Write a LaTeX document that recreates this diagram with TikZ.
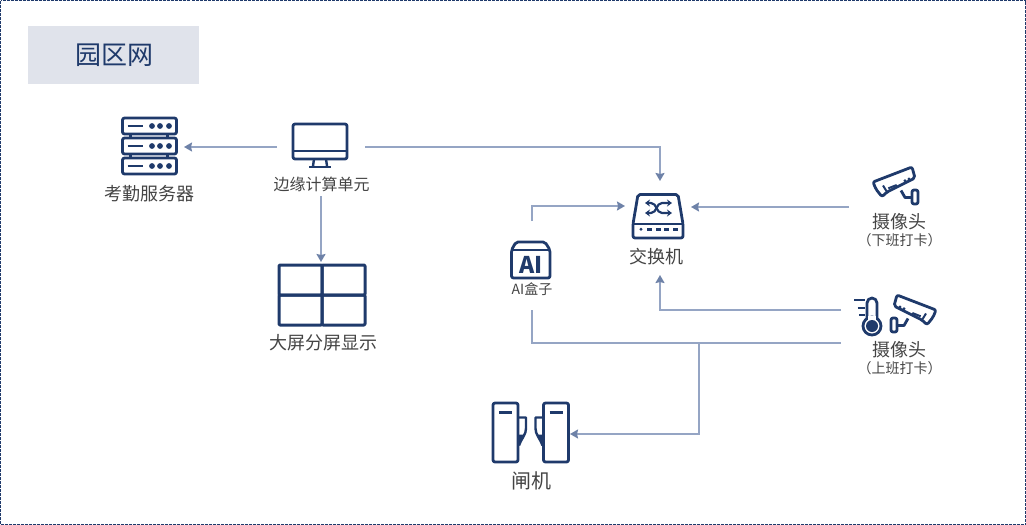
\documentclass[tikz,border=0pt]{standalone}
\usepackage{fontspec}
\setmainfont{Noto Sans CJK SC}
\usepackage{xcolor}
\usetikzlibrary{
  arrows.meta,
  positioning,
  calc
}
\definecolor{parkNavy}{HTML}{1F3A6B}
\definecolor{parkLine}{HTML}{95A5C4}
\definecolor{parkTip}{HTML}{6E82A8}
\definecolor{parkBand}{HTML}{E0E3EB}
\definecolor{parkText}{HTML}{444444}
\tikzset{
  devicon/.style={draw=none, inner sep=0pt, outer sep=0pt},
  devlabel/.style={font=\fontsize{18}{20}\selectfont, text=parkText, inner sep=0pt, align=center},
  smalllabel/.style={font=\fontsize{14}{20}\selectfont, text=parkText, inner sep=0pt, align=center},
  iconline/.style={draw=parkNavy, line width=2.8pt, rounded corners=2pt, line join=round},
  iconfill/.style={fill=parkNavy, draw=none},
  link/.style={line width=2pt, parkLine},
  linkarrow/.style={link, -{Stealth[length=8pt, width=9pt, inset=1pt, color=parkTip]}},
  serverpic/.pic={
    \foreach \yy in {-20,0,20} {
      \draw[iconline] (-27,\yy-8) rectangle (27,\yy+8);
      \draw[iconline, rounded corners=0pt] (-22,\yy) -- (-7,\yy);
      \foreach \xx in {2.5,10.5,19.5} \fill[parkNavy] (\xx,\yy) circle (2.9);
    }
    \foreach \xx in {-19,18} \foreach \yy in {-10,10}
      \fill[parkNavy] (\xx-1.5,\yy-2) rectangle (\xx+1.5,\yy+2);
  },
  monitorpic/.pic={
    \draw[iconline] (-27,-22) rectangle (27,13);
    \draw[iconline, rounded corners=0pt] (-27,5) -- (27,5);
    \draw[iconline, rounded corners=0pt, line width=2.4pt] (-6,13) -- (-7,20) (6,13) -- (7,20);
    \draw[iconline, rounded corners=0pt] (-11,21) -- (11,21);
  },
  wallpic/.pic={
    \foreach \xx/\yy in {-43/-30,0/-30,-43/0,0/0}
      \draw[iconline, line width=3pt, rounded corners=1pt] (\xx,\yy) rectangle (\xx+43,\yy+30);
  },
  switchpic/.pic={
    \draw[iconline] (-21,-22) -- (19,-22) -- (24,7.5) -- (24,21.5) -- (-26,21.5) -- (-26,7.5) -- cycle;
    \draw[iconline, rounded corners=0pt] (-26,7.5) -- (24,7.5);
    \fill[parkNavy] (-18,12.8) circle (1.6);
    \foreach \xx in {-12,-3.5,4.5,13.5} \fill[parkNavy] (\xx,11) rectangle (\xx+5.2,14.8);
    \draw[parkNavy, line width=2.2pt, {Stealth[length=5pt, width=7pt]}-{Stealth[length=5pt, width=7pt]}] (-14,-13.5) -- (-8,-13.5) .. controls (-2,-13.5) and (-3,-3.5) .. (3,-3.5) -- (13,-3.5);
    \draw[parkNavy, line width=2.2pt, {Stealth[length=5pt, width=7pt]}-{Stealth[length=5pt, width=7pt]}] (-14,-3.5) -- (-8,-3.5) .. controls (-2,-3.5) and (-3,-13.5) .. (3,-13.5) -- (13,-13.5);
  },
  aiboxpic/.pic={
    \draw[iconline] (-15,-18) -- (14,-18) -- (19,-10) -- (19,18) -- (-19.5,18) -- (-19.5,-10) -- cycle;
    \draw[iconline, rounded corners=0pt] (-19.5,-10) -- (19,-10);
    \node[text=parkNavy, font=\fontsize{23}{24}\selectfont\bfseries, inner sep=0pt] (aitext) at (0,5) {AI};
  },
  camerapic/.pic={
    \draw[iconline] (-22,-4) -- (17,-19) -- (20,-8) -- (-8,6) -- (-13,10.7) -- (-19,3.3) -- cycle;
    \draw[iconline, rounded corners=0pt, line width=2pt] (-12,-0.5) -- (-8,6);
    \draw[iconline, rounded corners=0pt, line width=2pt] (-6.7,2.3) -- (1.7,-1);
    \fill[parkNavy] (10,-5.3) circle (1.6) (14,-7) circle (1.6);
    \draw[iconline, rounded corners=0pt] (6,4.5) -- (10,11.5) -- (17,11.5);
    \draw[iconline] (17,4) rectangle (23,18);
  },
  thermopic/.pic={
    \draw[iconline, rounded corners=0pt] (-5,13) -- (-5,-3) arc[start angle=-180, end angle=0, radius=5] -- (5,13);
    \draw[iconline, fill=white, rounded corners=0pt] (0,20) circle (9);
    \fill[parkNavy] (0,20) circle (6);
    \fill[white] (-3.6,10) rectangle (3.6,13.5);
    \draw[iconline, rounded corners=0pt] (-18,-6) -- (-7.5,-6) (-14.5,2) -- (-7.5,2) (-13,9) -- (-7.5,9);
  },
  gatepic/.pic={
    \draw[iconline] (-38,-29.5) rectangle (-13,29.5);
    \draw[iconline] (12.5,-29.5) rectangle (37.5,29.5);
    \draw[iconline, rounded corners=0pt] (-32,-20) -- (-19,-20) (18.5,-20) -- (31.5,-20);
    \draw[parkNavy, line width=2.4pt, line join=round] (-12,-15) -- (-5,-15) -- (-5,-4) .. controls (-5,2) and (-9,5) .. (-12,13);
    \fill[parkNavy] (-12,2) -- (-7,2) -- (-12,13) -- cycle;
    \draw[parkNavy, line width=2.4pt, line join=round] (11.5,-15) -- (4.5,-15) -- (4.5,-4) .. controls (4.5,2) and (8.5,5) .. (11.5,13);
    \fill[parkNavy] (11.5,2) -- (6.5,2) -- (11.5,13) -- cycle;
  }
}
\begin{document}
\begin{tikzpicture}[x=1pt, y=-1pt]
  \useasboundingbox (0,0) rectangle (1026,525);
  \draw[parkNavy, line width=1pt, dash pattern=on 3pt off 1pt] (0.5,0.5) rectangle (1025.5,524.5);
  % title band
  \node[fill=parkBand, minimum width=171pt, minimum height=58pt, inner sep=0pt, text=parkNavy, font=\fontsize{26}{28}\selectfont] (title) at (113.5,55) {\hspace*{1.5pt}园区网};
  % device icons
  \node[devicon, minimum width=54pt, minimum height=56pt] (server) at (149.5,146) {};
  \node[devlabel, below=11pt of server] (serverlabel) {考勤服务器};
  \node[devicon, minimum width=54pt, minimum height=44pt] (monitor) at (320,146) {};
  \node[smalllabel, font=\fontsize{16}{18}\selectfont, below=9pt of monitor, xshift=1.5pt] (monitorlabel) {边缘计算单元};
  \node[devicon, minimum width=86pt, minimum height=60pt] (wall) at (322,295) {};
  \node[devlabel, below=9pt of wall, xshift=1.5pt] (walllabel) {大屏分屏显示};
  \node[devicon, minimum width=49pt, minimum height=45pt] (switch) at (659,216.5) {};
  \node[devlabel, below=9pt of switch, xshift=-2.5pt] (switchlabel) {交换机};
  \node[devicon, minimum width=40pt, minimum height=36pt] (aibox) at (531,260) {};
  \node[smalllabel, below=4pt of aibox, xshift=1pt] (aiboxlabel) {AI盒子};
  \node[devicon, minimum width=46pt, minimum height=38pt] (camdown) at (895,186) {};
  \node[devlabel, below=8pt of camdown, xshift=4.5pt] (camdownlabel) {摄像头};
  \node[smalllabel, below=3pt of camdownlabel] (camdownnote) {（下班打卡）};
  \node[devicon, minimum width=46pt, minimum height=38pt] (camup) at (914,314) {};
  \node[devlabel, below=8pt of camup, xshift=-14.5pt] (camuplabel) {摄像头};
  \node[smalllabel, below=3pt of camuplabel] (camupnote) {（上班打卡）};
  \node[devicon, minimum width=76pt, minimum height=60pt] (gate) at (531,432.5) {};
  \node[devlabel, font=\fontsize{20}{22}\selectfont, below=9pt of gate] (gatelabel) {闸机};
  \pic at (server) {serverpic};
  \pic at (monitor) {monitorpic};
  \pic at (wall) {wallpic};
  \pic at (switch) {switchpic};
  \pic at (aibox) {aiboxpic};
  \pic at (camdown) {camerapic};
  \pic[xscale=-1] at (camup) {camerapic};
  \pic at (872,306) {thermopic};
  \pic at (gate) {gatepic};
  % free connector ends
  \coordinate (monitorwest) at (277,147);
  \coordinate (monitoreast) at (365,147);
  \coordinate (monitorsouth) at (321,196);
  \coordinate (wallnorth) at (321,262);
  \coordinate (serverport) at (184,147);
  \coordinate (switchnorth) at (660,181);
  \coordinate (switchwest) at (625,206);
  \coordinate (switcheast) at (691,207);
  \coordinate (switchsouth) at (660,275);
  \coordinate (ainorth) at (532,221);
  \coordinate (aisouth) at (532,310);
  \coordinate (camdownport) at (849,207);
  \coordinate (camupport) at (841,310);
  \coordinate (camupgate) at (841,343);
  \coordinate (branch) at (699,343);
  \coordinate (gateport) at (570,434);
  % connectors
  \draw[linkarrow] (monitorwest) -- (serverport);
  \draw[linkarrow] (monitoreast) -| (switchnorth);
  \draw[linkarrow] (monitorsouth) -- (wallnorth);
  \draw[linkarrow] (ainorth) |- (switchwest);
  \draw[linkarrow] (camdownport) -- (switcheast);
  \draw[linkarrow] (camupport) -| (switchsouth);
  \draw[link] (aisouth) |- (camupgate);
  \draw[linkarrow] (branch) |- (gateport);
\end{tikzpicture}
\end{document}
